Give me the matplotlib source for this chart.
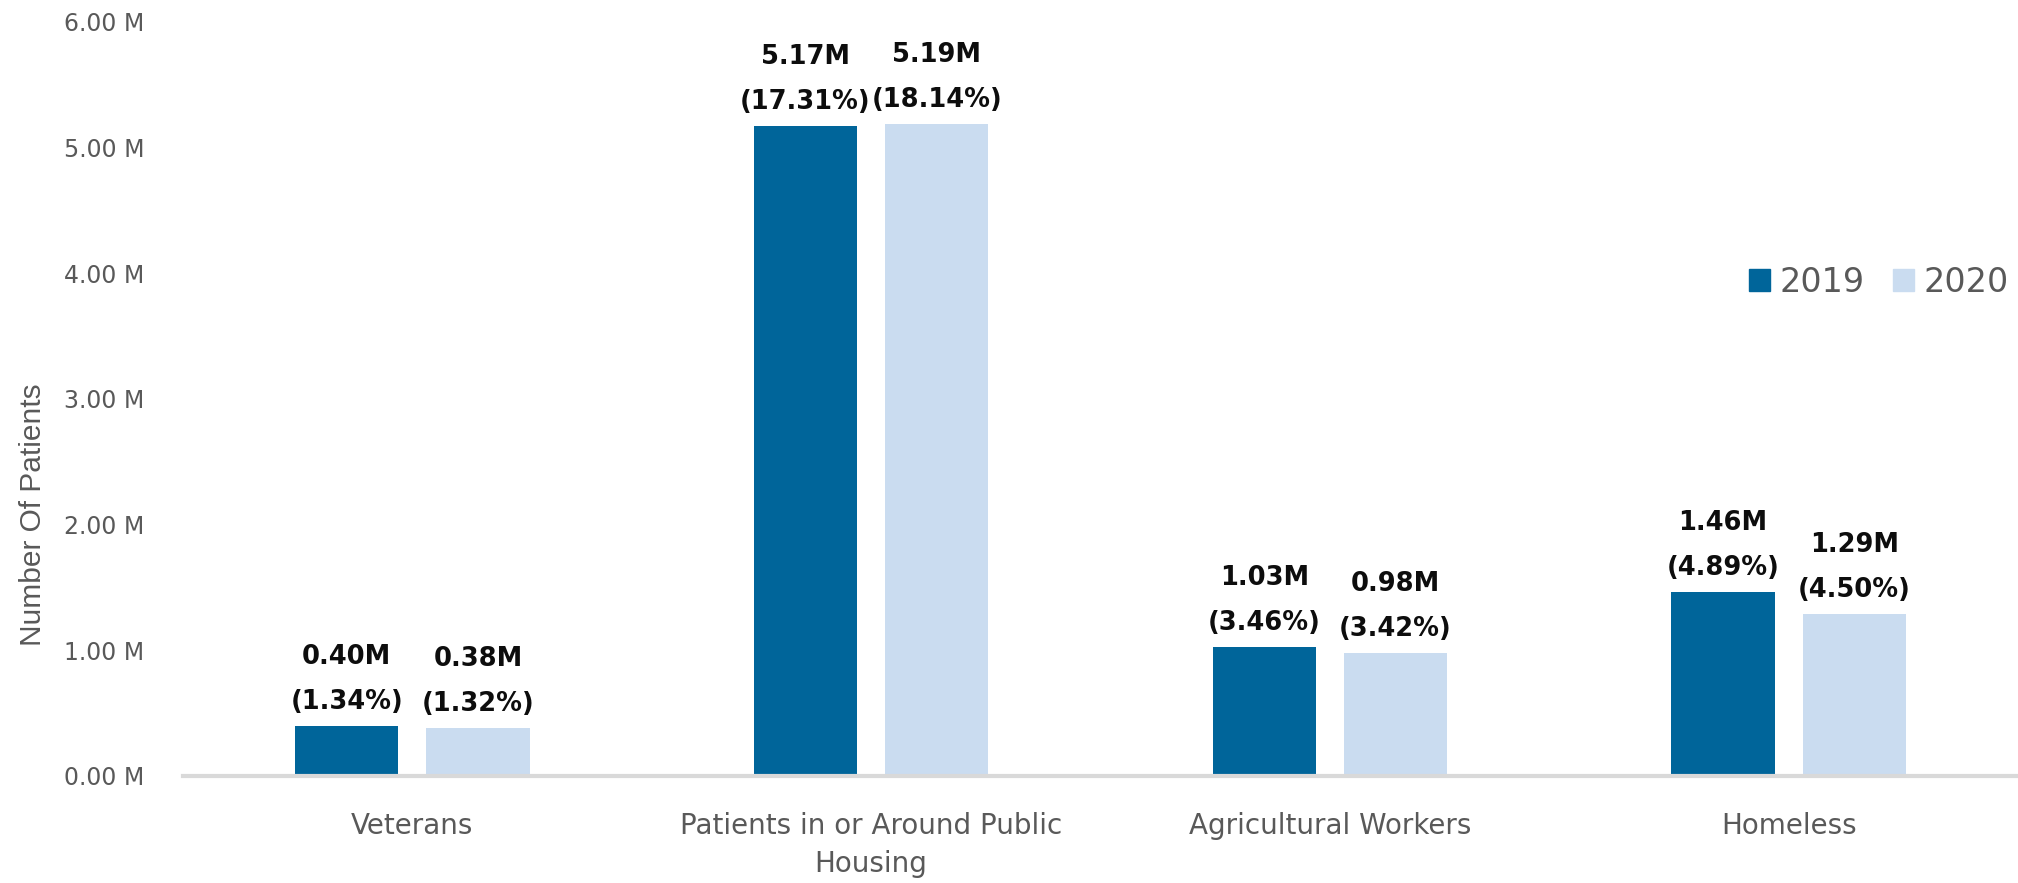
import numpy as np
import matplotlib
matplotlib.use("Agg")
import matplotlib.pyplot as plt
from matplotlib.patches import Patch

categories = ["Veterans", "Patients in or Around Public\nHousing",
              "Agricultural Workers", "Homeless"]
years = ["2019", "2020"]
patients_2019 = [0.40, 5.17, 1.03, 1.46]   # millions
patients_2020 = [0.38, 5.19, 0.98, 1.29]
share_2019 = [1.34, 17.31, 3.46, 4.89]      # percent of all patients
share_2020 = [1.32, 18.14, 3.42, 4.50]
y_ticks = [0, 1, 2, 3, 4, 5, 6]

DARK_BLUE = "#00659a"
LIGHT_BLUE = "#cadcf0"
GRAY = "#595959"

fig = plt.figure(figsize=(20.18, 8.83), dpi=100)
ax = fig.add_axes([0.0907, 0.1212, 0.9093, 0.854])

x = np.arange(len(categories))
offset = 0.143
width = 0.225

bars_19 = ax.bar(x - offset, patients_2019, width, color=DARK_BLUE)
bars_20 = ax.bar(x + offset, patients_2020, width, color=LIGHT_BLUE)

# two-line value labels above each bar
for bars, vals, shares in [(bars_19, patients_2019, share_2019),
                           (bars_20, patients_2020, share_2020)]:
    for b, v, s in zip(bars, vals, shares):
        cx = b.get_x() + b.get_width() / 2
        ax.annotate(f"{v:.2f}M", (cx, v), xytext=(0, 49.7), textcoords="offset points",
                    ha="center", va="center", fontsize=18.5, fontweight="bold", color="#0d0d0d")
        ax.annotate(f"({s:.2f}%)", (cx, v), xytext=(0, 17.3), textcoords="offset points",
                    ha="center", va="center", fontsize=18.5, fontweight="bold", color="#0d0d0d")

ax.set_xlim(-0.5, 3.5)
ax.set_ylim(0, 6)
ax.set_yticks(y_ticks)
ax.set_yticklabels([f"{t:.2f} M" for t in y_ticks], fontsize=17, color=GRAY)
ax.set_xticks(x)
ax.set_xticklabels(categories, fontsize=20, color=GRAY, linespacing=1.45)
ax.tick_params(axis="both", length=0)
ax.tick_params(axis="y", pad=28)
ax.tick_params(axis="x", pad=26)

for side in ["top", "right", "left"]:
    ax.spines[side].set_visible(False)
ax.spines["bottom"].set_color("#d9d9d9")
ax.spines["bottom"].set_linewidth(3)

fig.text(0.0165, 0.417, "Number Of Patients", rotation=90, ha="center", va="center",
         fontsize=21.5, color=GRAY, family="Liberation Sans")

handles = [Patch(color=DARK_BLUE), Patch(color=LIGHT_BLUE)]
ax.legend(handles, years, loc="center left", bbox_to_anchor=(0.837, 0.655),
          ncol=2, frameon=False, fontsize=24, labelcolor=GRAY,
          handlelength=0.62, handleheight=0.62, handletextpad=0.3, columnspacing=0.85)

fig.savefig("out.png", dpi=100)
